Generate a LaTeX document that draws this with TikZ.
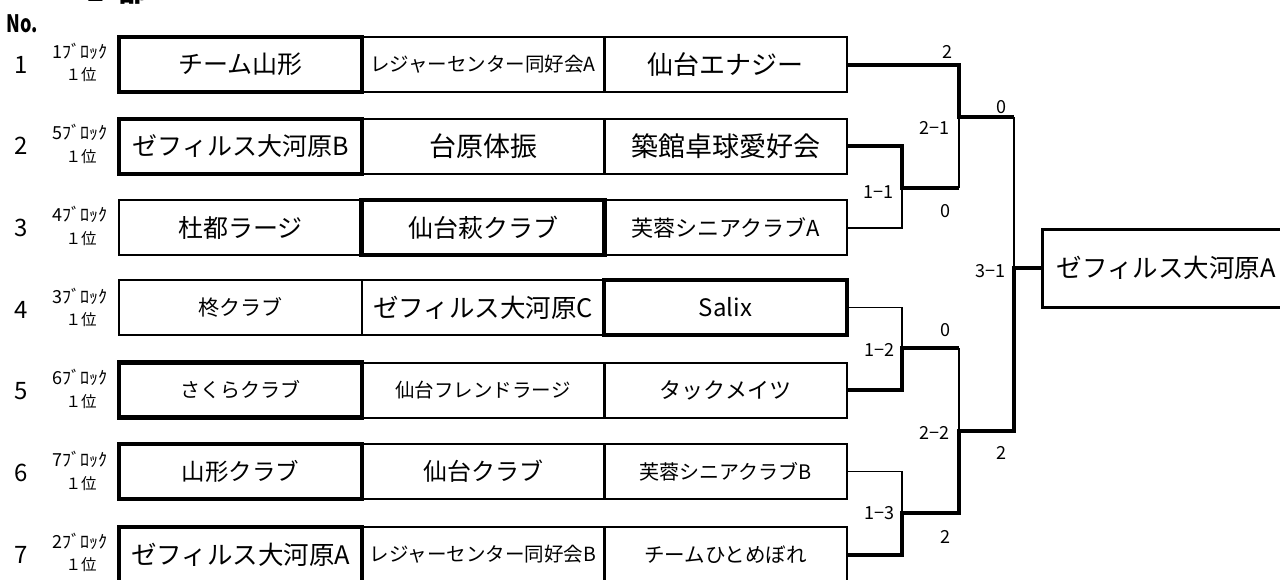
\documentclass[tikz,border=0pt]{standalone}
\usepackage{fontspec}
\setmainfont{Noto Sans CJK JP}
\newcommand{\fsz}[1]{\fontsize{#1}{#1}\selectfont}
\tikzset{
  cell/.style={draw, line width=2pt, minimum width=243pt, minimum height=55pt, inner sep=0pt, outer sep=0pt},
  wincell/.style={cell, line width=4.2pt},
  thn/.style={line width=1.7pt},
  thk/.style={line width=4pt},
  score/.style={font=\fsz{18}, inner sep=0pt},
  rowno/.style={font=\fsz{24}, inner sep=0pt},
  blk/.style={font=\fsz{18}, inner sep=0pt},
  rank/.style={font=\fsz{15.5}, inner sep=0pt}
}
\begin{document}
\begin{tikzpicture}[x=1pt,y=-1pt]
\useasboundingbox (0,0) rectangle (1280,579);
% title (cut off at top, as in the reference)
\node[font=\bfseries\fsz{30}, anchor=base west, inner sep=0pt] (title) at (86,1.5) {1\hspace{14pt}部};
\node[font=\bfseries\fsz{24}, inner sep=0pt] (no) at (22,24) {\scalebox{0.75}[1]{No.}};

% row labels
\foreach \i/\b in {1/1,2/5,3/4,4/3,5/6,6/7,7/2}{
  \pgfmathsetmacro{\yc}{64.5+81.67*(\i-1)}
  \node[rowno] (n\i) at (21.5,\yc) {\i};
  \node[blk] (b\i) at (80,\yc-13.5) {\b ﾌﾞﾛｯｸ};
  \node[rank] (k\i) at (81,\yc+10.5) {１位};
}

% row 1
\node[wincell, font=\fsz{25}] (r1a) at (240.5,64.5) {チーム山形};
\node[cell, font=\fsz{19.5}] (r1b) at (483,64.5) {レジャーセンター同好会A};
\node[cell, font=\fsz{26}] (r1c) at (725.5,64.5) {仙台エナジー};
% row 2
\node[wincell, font=\fsz{25}] (r2a) at (240.5,146.2) {ゼフィルス大河原B};
\node[cell, font=\fsz{27}] (r2b) at (483,146.2) {台原体振};
\node[cell, font=\fsz{27}] (r2c) at (725.5,146.2) {築館卓球愛好会};
% row 3
\node[cell, font=\fsz{25}] (r3a) at (240.5,227.8) {杜都ラージ};
\node[wincell, font=\fsz{25}] (r3b) at (483,227.8) {仙台萩クラブ};
\node[cell, font=\fsz{22}] (r3c) at (725.5,227.8) {芙蓉シニアクラブA};
% row 4
\node[cell, font=\fsz{21}] (r4a) at (240.5,307.5) {柊クラブ};
\node[cell, font=\fsz{25.5}] (r4b) at (483,307.5) {ゼフィルス大河原C};
\node[wincell, font=\fsz{24}] (r4c) at (725.5,307.5) {Salix};
% row 5
\node[wincell, font=\fsz{20}] (r5a) at (240.5,390) {さくらクラブ};
\node[cell, font=\fsz{19.5}] (r5b) at (483,390) {仙台フレンドラージ};
\node[cell, font=\fsz{22}] (r5c) at (725.5,390) {タックメイツ};
% row 6
\node[wincell, font=\fsz{23.5}] (r6a) at (240.5,471.5) {山形クラブ};
\node[cell, font=\fsz{24}] (r6b) at (483,471.5) {仙台クラブ};
\node[cell, font=\fsz{20}] (r6c) at (725.5,471.5) {芙蓉シニアクラブB};
% row 7
\node[wincell, font=\fsz{25.5}] (r7a) at (240.5,554.5) {ゼフィルス大河原A};
\node[cell, font=\fsz{19.5}] (r7b) at (483,554.5) {レジャーセンター同好会B};
\node[cell, font=\fsz{20.5}] (r7c) at (725.5,554.5) {チームひとめぼれ};

% final
\node[cell, line width=3pt, minimum width=248pt, minimum height=78pt, font=\fsz{25.5}] (final) at (1166,268) {ゼフィルス大河原A};

% junctions
\coordinate (q23) at (902,188);
\coordinate (q45) at (902,348);
\coordinate (q67) at (902,513);
\coordinate (s23) at (959,188);
\coordinate (s45) at (959,348);
\coordinate (s67) at (959,513);
\coordinate (m1) at (959,117);
\coordinate (m2) at (959,431);
\coordinate (t1) at (1014,117);
\coordinate (t2) at (1014,431);
\coordinate (f) at (1014,268);

% thin lines
\draw[thn] (r3c.east) -| (q23);
\draw[thn] (r4c.east) -| (q45);
\draw[thn] (r6c.east) -| (q67);
\draw[thn] (s23) -- (m1);
\draw[thn] (s45) -- (m2);
\draw[thn] (t1) -- (f);
% thick lines
\draw[thk] (r1c.east) -| (m1) -- (t1);
\draw[thk] (r2c.east) -| (q23) -- (s23);
\draw[thk] (r5c.east) -| (q45) -- (s45);
\draw[thk] (r7c.east) -| (q67) -- (s67) -- (m2) -- (t2) -- (f) -- (final.west);

% scores
\node[score] (sc1) at (947,52) {2};
\node[score] (sc2) at (1001,107) {0};
\node[score] (sc3) at (934,128) {2−1};
\node[score] (sc4) at (878,192) {1−1};
\node[score] (sc5) at (945,211) {0};
\node[score] (sc6) at (990,271) {3−1};
\node[score] (sc7) at (945,330) {0};
\node[score] (sc8) at (879,350) {1−2};
\node[score] (sc9) at (934,433) {2−2};
\node[score] (sc10) at (1001,453) {2};
\node[score] (sc11) at (879,513) {1−3};
\node[score] (sc12) at (945,537) {2};
\end{tikzpicture}
\end{document}
